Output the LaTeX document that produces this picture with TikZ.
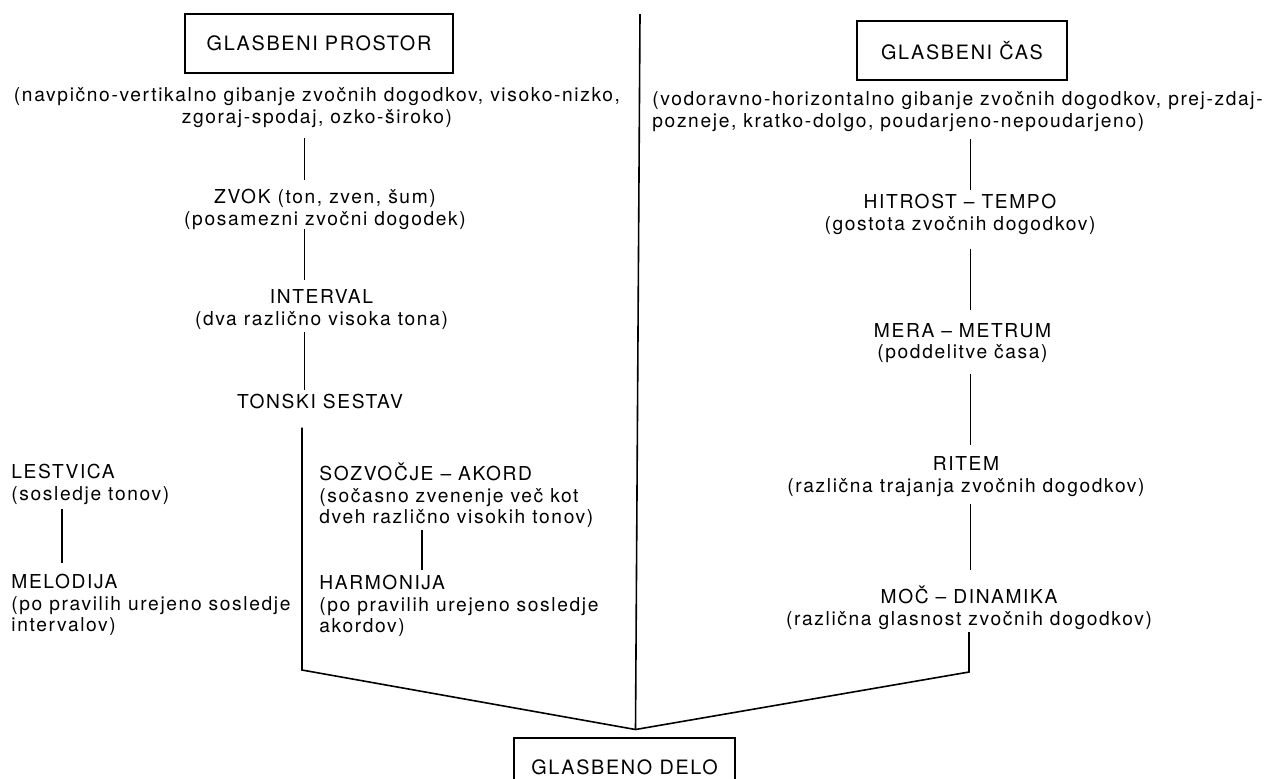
\documentclass[tikz,border=0pt]{standalone}
\usepackage{fontspec}
\setmainfont{TeX Gyre Heros}[LetterSpace=8.5]
\usetikzlibrary{positioning, calc}

\begin{document}
\begin{tikzpicture}[x=0.5pt, y=-0.5pt,
  every node/.style={font=\fontsize{9.6}{10.8}\selectfont, inner sep=0pt},
  headbox/.style={draw, line width=1pt, minimum height=29.5pt, align=center, font=\fontsize{9.9}{10.8}\selectfont},
  term/.style={align=center, anchor=north},
  termleft/.style={align=left, anchor=north west},
  link/.style={line width=0.8pt}]
\useasboundingbox (0,0) rectangle (1283,778);
\clip (0,0) rectangle (1283,778);

% glasbeni prostor
\node[headbox, minimum width=134pt] (prostor) at (319,43.5) {GLASBENI PROSTOR};
\node[term] (prostordesc) at (317,85.9) {\strut(navpično-vertikalno gibanje zvočnih dogodkov, visoko-nizko,\\zgoraj-spodaj, ozko-široko)\strut};
\node[term] (zvok) at (325,188.4) {\strut ZVOK (ton, zven, šum)\\(posamezni zvočni dogodek)\strut};
\node[term] (interval) at (321.5,288.4) {\strut INTERVAL\\(dva različno visoka tona)\strut};
\node[term] (tonski) at (320,393.2) {\strut TONSKI SESTAV\strut};
\node[termleft] (lestvica) at (11,462.9) {\strut LESTVICA\\(sosledje tonov)\strut};
\node[termleft] (melodija) at (11,573.2) {\strut MELODIJA\\(po pravilih urejeno sosledje\\intervalov)\strut};
\node[termleft] (sozvocje) at (319,462.4) {\strut SOZVOČJE -- AKORD\\(sočasno zvenenje več kot\\dveh različno visokih tonov)\strut};
\node[termleft] (harmonija) at (319,574.2) {\strut HARMONIJA\\(po pravilih urejeno sosledje\\akordov)\strut};

% glasbeni cas
\node[headbox, minimum width=105pt] (cas) at (962,50.5) {GLASBENI ČAS};
\node[termleft] (casdesc) at (652,90.4) {\strut(vodoravno-horizontalno gibanje zvočnih dogodkov, prej-zdaj-\\pozneje, kratko-dolgo, poudarjeno-nepoudarjeno)\strut};
\node[term] (hitrost) at (960,193.2) {\strut HITROST -- TEMPO\\(gostota zvočnih dogodkov)\strut};
\node[term] (mera) at (962.5,321.6) {\strut MERA -- METRUM\\(poddelitve časa)\strut};
\node[term] (ritem) at (966,454.9) {\strut RITEM\\(različna trajanja zvočnih dogodkov)\strut};
\node[term] (moc) at (969,585.6) {\strut MOČ -- DINAMIKA\\(različna glasnost zvočnih dogodkov)\strut};

\node[headbox, minimum width=110.5pt] (delo) at (624.5,767) {GLASBENO DELO};

% spines and joints
\coordinate (spineL) at (304.5,0);
\coordinate (spineR) at (970.5,0);
\coordinate (subA) at (62,0);
\coordinate (subB) at (422,0);
\coordinate (cornerL) at (302,670);
\coordinate (cornerR) at (969,672);
\coordinate (meet) at (635.5,729.5);
\coordinate (top) at (640,14);

\foreach \a/\b/\s/\e in {prostordesc/zvok/4/4.2, zvok/interval/-1.8/4.2, interval/tonski/0/1.6}
  \draw[link, shorten <=\s pt, shorten >=\e pt] (\a.south -| spineL) -- (\b.north -| spineL);
\foreach \a/\b/\s/\e in {casdesc/hitrost/2.2/1.5, hitrost/mera/5.8/5.8, mera/ritem/4/5, ritem/moc/2.5/7.8}
  \draw[link, shorten <=\s pt, shorten >=\e pt] (\a.south -| spineR) -- (\b.north -| spineR);
\draw[link, shorten <=1pt, shorten >=5pt] (lestvica.south -| subA) -- (melodija.north -| subA);
\draw[link, shorten <=-0.5pt, shorten >=2pt] (sozvocje.south -| subB) -- (harmonija.north -| subB);

\draw[link, shorten <=6pt] (tonski.south -| cornerL) -- (cornerL) -- (meet) -- (cornerR) -- (moc.south -| cornerR);
\draw[link] (top) -- (meet);
\end{tikzpicture}
\end{document}
